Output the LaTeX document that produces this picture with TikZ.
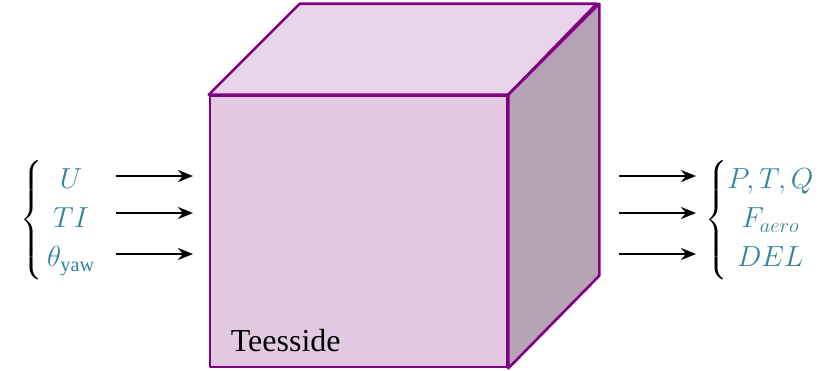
\documentclass[tikz,border=0pt]{standalone}
\usepackage{fix-cm}
\usepackage{amsmath}
\usepackage{fontspec}
\setmainfont{Liberation Serif}
\usepackage{xcolor}
\usetikzlibrary{arrows.meta,positioning,calc}
\definecolor{edgepurple}{HTML}{800080}
\definecolor{frontfill}{HTML}{E2C9E2}
\definecolor{topfill}{HTML}{E9D5EA}
\definecolor{sidefill}{HTML}{B6A3B6}
\definecolor{mathteal}{HTML}{31849B}
\newcommand{\tl}[1]{\textcolor{mathteal}{#1}}

\begin{document}
\begin{tikzpicture}[
  x=1pt, y=-1pt,
  face/.style={draw=edgepurple, line width=2.6pt, line join=round},
  lbl/.style={inner sep=0pt, font=\fontsize{29}{39}\selectfont},
  arr/.style={-{Stealth[length=15pt,width=12pt]}, line width=2.4pt}
]
\useasboundingbox (0,0) rectangle (832,370);
% front face of the block
\node[face, fill=frontfill, minimum width=297pt, minimum height=271pt, inner sep=0pt] (front) at (358.5,231.5) {};
\draw[face, fill=topfill] (front.north west) -- ++(91,-91) -- ++(297,0) -- (front.north east) -- cycle;
\draw[face, fill=sidefill] (front.north east) -- ++(91,-91) -- ++(0,272) -- (front.south east) -- cycle;
\node[anchor=south west, inner sep=0pt, font=\fontsize{32}{38}\selectfont] (site) at ($(front.south west)+(22,-16)$) {Teesside};
% inputs and outputs
\node[lbl, anchor=west] (inputs) at (20,220) {$\left\{\begin{array}{@{\,}c@{}}\tl{U}\\ \tl{TI}\\ \tl{\theta_{\mathrm{yaw}}}\end{array}\right.$};
\node[lbl, anchor=west] (outputs) at (705,220) {$\left\{\begin{array}{@{}c@{}}\tl{P,T,Q}\\ \tl{F_{aero}}\\ \tl{DEL}\end{array}\right.$};
\foreach \y [count=\i] in {176,213,254} {
  \coordinate (in\i) at (116,\y);
  \coordinate (to\i) at (193,\y);
  \coordinate (out\i) at (619,\y);
  \coordinate (res\i) at (696,\y);
  \draw[arr] (in\i) -- (to\i);
  \draw[arr] (out\i) -- (res\i);
}
\end{tikzpicture}
\end{document}
